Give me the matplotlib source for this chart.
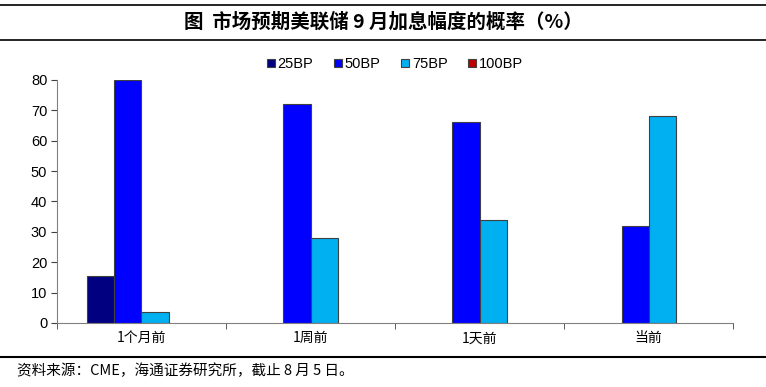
import matplotlib.pyplot as plt
import numpy as np
from matplotlib.lines import Line2D
from matplotlib.patches import Patch

plt.rcParams['font.family'] = ['Noto Sans CJK SC', 'DejaVu Sans']

categories = ['1个月前', '1周前', '1天前', '当前']
series_names = ['25BP', '50BP', '75BP', '100BP']
bp25 = [15.6, 0, 0, 0]
bp50 = [80, 72, 66, 32]
bp75 = [3.5, 28, 34, 68]
bp100 = [0, 0, 0, 0]
colors = ['#000080', '#0000FF', '#00B0F0', '#C00000']


def main():
    fig = plt.figure(figsize=(7.66, 3.87), dpi=100)
    ax = fig.add_axes([0.0744, 0.1654, 0.8826, 0.628])

    x = np.arange(len(categories))
    w = 0.16
    all_series = [bp25, bp50, bp75, bp100]
    handles = []
    for i, (vals, name) in enumerate(zip(all_series, series_names)):
        vals = np.array(vals, dtype=float)
        pos = x + (i - 1.5) * w
        mask = vals > 0
        if mask.any():
            ax.bar(pos[mask], vals[mask], width=w, color=colors[i],
                   edgecolor='#404040', linewidth=0.8)
        handles.append(Patch(facecolor=colors[i], edgecolor='#404040',
                             linewidth=0.8, label=name))

    ax.set_xlim(-0.5, len(categories) - 0.5)
    ax.set_ylim(0, 80)
    ax.set_yticks(range(0, 81, 10))
    ax.set_xticks(x)
    ax.set_xticklabels(categories, fontsize=10)
    ax.set_xticks(np.arange(-0.5, len(categories)), minor=True)
    ax.tick_params(axis='x', which='major', length=0, pad=6)
    ax.tick_params(axis='x', which='minor', length=4, color='#404040')
    ax.tick_params(axis='y', labelsize=10.5, length=4, color='#404040', pad=3)
    for lab in ax.get_yticklabels():
        lab.set_family('Liberation Sans')
    for s in ['top', 'right']:
        ax.spines[s].set_visible(False)
    ax.spines['left'].set_color('#808080')
    ax.spines['bottom'].set_color('#808080')

    ax.legend(handles=handles, loc='lower center', bbox_to_anchor=(0.5, 1.0), ncol=4,
              frameon=False, prop={'family': 'Liberation Sans', 'size': 10.5},
              handlelength=0.55, handleheight=0.55,
              handletextpad=0.2, columnspacing=1.4, borderaxespad=0.2)

    fig.text(0.5, 0.944, '图  市场预期美联储 9 月加息幅度的概率（%）', ha='center', va='center',
             fontsize=14, fontweight='bold')
    fig.add_artist(Line2D([0, 1], [0.987, 0.987], color='black', linewidth=1.2))
    fig.add_artist(Line2D([0, 1], [0.897, 0.897], color='black', linewidth=1.2))
    fig.add_artist(Line2D([0, 1], [0.077, 0.077], color='black', linewidth=1.5))
    fig.text(0.022, 0.043, '资料来源：CME，海通证券研究所，截止 8 月 5 日。', ha='left', va='center',
             fontsize=10.5)

    fig.savefig('out.png', dpi=100)


if __name__ == '__main__':
    main()
